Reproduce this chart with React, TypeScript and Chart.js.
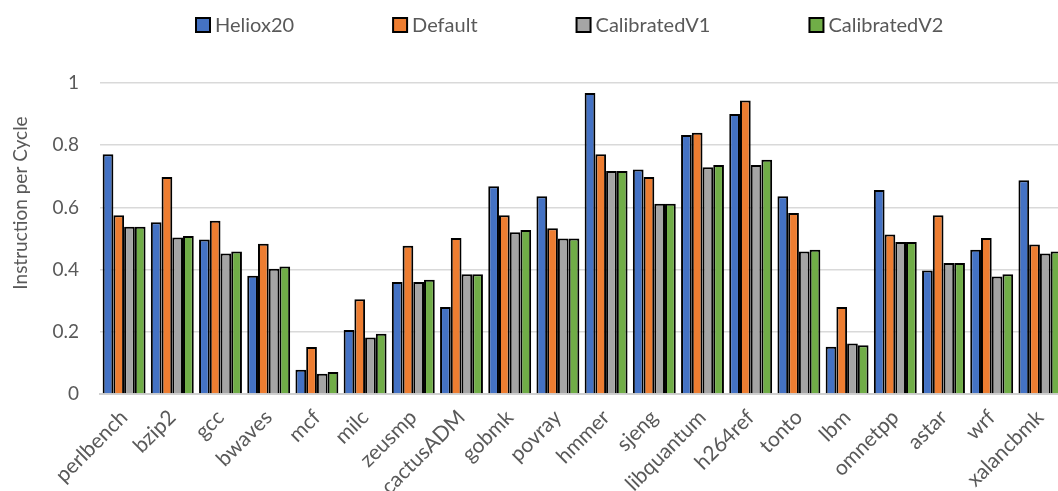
import React, { useEffect, useRef } from "react";
import { Chart, registerables } from "chart.js";

Chart.register(...registerables);

const categories = [
  "perlbench", "bzip2", "gcc", "bwaves", "mcf", "milc", "zeusmp", "cactusADM", "gobmk", "povray",
  "hmmer", "sjeng", "libquantum", "h264ref", "tonto", "lbm", "omnetpp", "astar", "wrf", "xalancbmk",
];
const heliox20 = [0.771, 0.552, 0.497, 0.38, 0.078, 0.206, 0.36, 0.28, 0.668, 0.636, 0.968, 0.722, 0.833, 0.9, 0.636, 0.152, 0.656, 0.397, 0.464, 0.687];
const defaultCfg = [0.575, 0.698, 0.557, 0.483, 0.151, 0.305, 0.477, 0.502, 0.575, 0.533, 0.771, 0.698, 0.84, 0.944, 0.582, 0.28, 0.513, 0.575, 0.502, 0.481];
const calibratedV1 = [0.538, 0.503, 0.452, 0.403, 0.065, 0.182, 0.36, 0.385, 0.52, 0.5, 0.717, 0.612, 0.729, 0.736, 0.458, 0.162, 0.489, 0.421, 0.378, 0.452];
const calibratedV2 = [0.538, 0.508, 0.458, 0.41, 0.071, 0.194, 0.367, 0.385, 0.527, 0.5, 0.717, 0.612, 0.736, 0.753, 0.464, 0.157, 0.489, 0.421, 0.385, 0.458];
const seriesNames = ["Heliox20", "Default", "CalibratedV1", "CalibratedV2"];
const seriesColors = ["#4472C4", "#ED7D31", "#A5A5A5", "#70AD47"];
const yTicks = [0, 0.2, 0.4, 0.6, 0.8, 1];
const yTitle = "Instruction per Cycle";

const FONT = "Lato, 'Open Sans', sans-serif";
const TEXT = "#595959";

const overlayPlugin = {
  id: "overlay",
  afterDraw(chart: any) {
    const ctx = chart.ctx as CanvasRenderingContext2D;
    ctx.save();
    // legend
    ctx.font = `20px ${FONT}`;
    ctx.textBaseline = "middle";
    ctx.textAlign = "left";
    let x = 196;
    const boxTop = 18;
    const box = 14;
    chart.data.datasets.forEach((ds: any) => {
      ctx.fillStyle = ds.backgroundColor;
      ctx.fillRect(x, boxTop, box, box);
      ctx.lineWidth = 2;
      ctx.strokeStyle = "#000";
      ctx.strokeRect(x, boxTop, box, box);
      ctx.fillStyle = TEXT;
      const tx = x + box + 5;
      ctx.fillText(ds.label, tx, boxTop + box / 2 + 1);
      x = tx + ctx.measureText(ds.label).width + 99;
    });
    // y title
    ctx.translate(21, 203);
    ctx.rotate(-Math.PI / 2);
    ctx.textAlign = "center";
    ctx.font = `19px ${FONT}`;
    ctx.fillStyle = TEXT;
    ctx.fillText(yTitle, 0, 0);
    ctx.restore();
  },
};

export default function App() {
  const ref = useRef<HTMLCanvasElement | null>(null);
  useEffect(() => {
    if (!ref.current) return;
    const series = [heliox20, defaultCfg, calibratedV1, calibratedV2];
    const chart = new Chart(ref.current, {
      type: "bar",
      data: {
        labels: categories,
        datasets: series.map((d, i) => ({
          label: seriesNames[i],
          data: d,
          backgroundColor: seriesColors[i],
          borderColor: "#000000",
          borderWidth: 2,
          categoryPercentage: 0.89,
          barPercentage: 1.0,
        })),
      },
      options: {
        animation: false,
        responsive: false,
        layout: { padding: { top: 83, left: 0, right: 0, bottom: 0 } },
        plugins: { legend: { display: false }, tooltip: { enabled: false } },
        scales: {
          x: {
            grid: { display: false, drawTicks: false },
            border: { display: true, color: "#d0d0d0", width: 2 },
            ticks: {
              color: TEXT,
              font: { family: FONT, size: 21 },
              minRotation: 45,
              maxRotation: 45,
              padding: 11,
              autoSkip: false,
            },
            afterFit: (s: any) => {
              s.height = 97;
              s.paddingLeft = 0;
              s.paddingRight = 0;
            },
          },
          y: {
            min: 0,
            max: 1,
            grid: { color: "#d9d9d9", lineWidth: 1.5, drawTicks: false },
            border: { display: false },
            ticks: {
              color: TEXT,
              font: { family: FONT, size: 19 },
              padding: 21,
              callback: (v: any) => String(Math.round(Number(v) * 10) / 10),
            },
            afterBuildTicks: (s: any) => {
              s.ticks = yTicks.map((v) => ({ value: v }));
            },
            afterFit: (s: any) => {
              s.width = 100;
              s.paddingTop = 0;
              s.paddingBottom = 0;
            },
          },
        },
      },
      plugins: [overlayPlugin],
    });
    return () => chart.destroy();
  }, []);
  return (
    <div
      style={{
        position: "fixed",
        left: 0,
        top: 0,
        width: 1058,
        height: 491,
        overflow: "hidden",
        background: "#ffffff",
      }}
    >
      <canvas ref={ref} width={1064} height={491} style={{ display: "block" }} />
    </div>
  );
}
